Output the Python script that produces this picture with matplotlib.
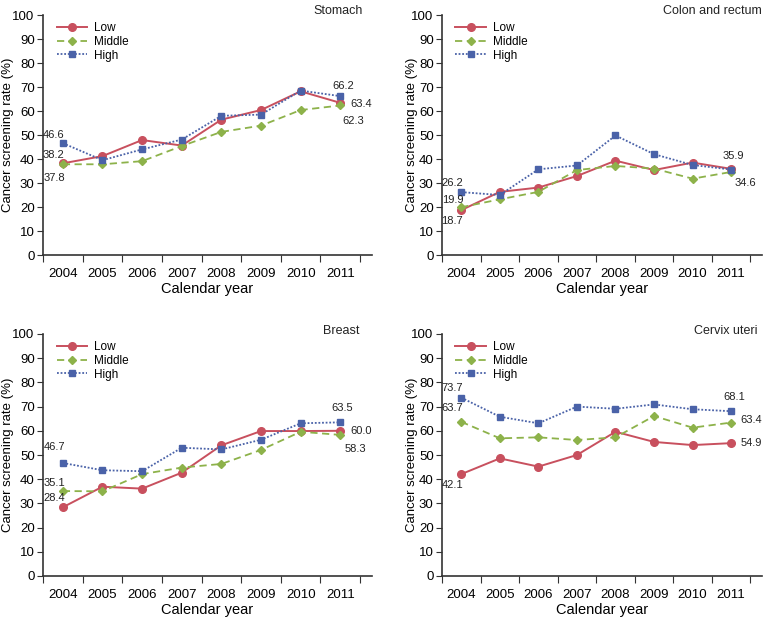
import matplotlib.pyplot as plt
from matplotlib import font_manager

# pick a narrow font if available
names = {f.name for f in font_manager.fontManager.ttflist}
fam = 'Liberation Sans Narrow' if 'Liberation Sans Narrow' in names else 'Liberation Sans'
plt.rcParams['font.family'] = [fam, 'DejaVu Sans']

years = ['2004', '2005', '2006', '2007', '2008', '2009', '2010', '2011']

stomach_low = [38.2, 41.2, 47.9, 45.6, 56.4, 60.4, 68.2, 63.4]
stomach_mid = [37.8, 37.8, 39.1, 45.4, 51.3, 53.9, 60.4, 62.3]
stomach_high = [46.6, 39.5, 44.0, 48.1, 58.0, 58.5, 68.5, 66.2]

colon_low = [18.7, 26.3, 28.1, 32.9, 39.3, 35.4, 38.5, 35.9]
colon_mid = [19.9, 23.2, 26.3, 35.4, 37.1, 36.0, 31.8, 34.6]
colon_high = [26.2, 25.0, 35.7, 37.3, 49.8, 42.0, 37.5, 35.6]

breast_low = [28.4, 36.9, 36.1, 42.7, 54.0, 59.9, 59.9, 60.0]
breast_mid = [35.1, 35.0, 42.1, 44.8, 46.3, 52.1, 59.6, 58.3]
breast_high = [46.7, 43.7, 43.3, 53.0, 52.3, 56.3, 63.1, 63.5]

cervix_low = [42.1, 48.6, 45.2, 50.0, 59.6, 55.4, 54.1, 54.9]
cervix_mid = [63.7, 56.9, 57.3, 56.2, 57.3, 66.1, 61.3, 63.4]
cervix_high = [73.7, 65.8, 63.1, 70.0, 69.1, 70.9, 68.9, 68.1]

titles = ['Stomach', 'Colon and rectum', 'Breast', 'Cervix uteri']
series = [
    (stomach_low, stomach_mid, stomach_high),
    (colon_low, colon_mid, colon_high),
    (breast_low, breast_mid, breast_high),
    (cervix_low, cervix_mid, cervix_high),
]

# which point gets a label: (series index, year index, dx, dy, ha)
labels = [
    [(2, 0, 0.05, 3.5, 'right'), (0, 0, 0.05, 3.5, 'right'), (1, 0, 0.05, -5.8, 'right'),
     (2, 7, 0.08, 4.2, 'center'), (0, 7, 0.25, -0.5, 'left'), (1, 7, 0.05, -6.5, 'left')],
    [(2, 0, 0.05, 4.0, 'right'), (1, 0, 0.05, 3.0, 'right'), (0, 0, 0.05, -4.6, 'right'),
     (0, 7, 0.05, 5.2, 'center'), (1, 7, 0.1, -4.5, 'left')],
    [(2, 0, 0.05, 6.5, 'right'), (1, 0, 0.05, 3.5, 'right'), (0, 0, 0.05, 4.0, 'right'),
     (2, 7, 0.05, 6.0, 'center'), (0, 7, 0.25, 0.0, 'left'), (1, 7, 0.1, -5.8, 'left')],
    [(2, 0, 0.05, 3.8, 'right'), (1, 0, 0.05, 5.6, 'right'), (0, 0, 0.05, -4.5, 'right'),
     (2, 7, 0.08, 5.7, 'center'), (1, 7, 0.25, 1.0, 'left'), (0, 7, 0.25, 0.0, 'left')],
]

names_s = ['Low', 'Middle', 'High']
colors = ['#c8505e', '#8db24a', '#4a62a8']
styles = ['-', '--', ':']
markers = ['o', 'D', 's']
msizes = [5.5, 4.2, 4.6]

fig = plt.figure(figsize=(7.74, 6.19), dpi=100)
W, H = 774, 619
boxes = [(43, 15, 372, 255), (442, 15, 762, 255), (43, 334, 372, 576), (442, 334, 762, 576)]
title_pos = [(363, 5), (762, 5), (360, 325), (758, 325)]
ylabel_x = [8, 412, 8, 412]

x = list(range(len(years)))
for k in range(4):
    l, t, r, b = boxes[k]
    ax = fig.add_axes([l / W, 1 - b / H, (r - l) / W, (b - t) / H])
    for s in range(3):
        ax.plot(x, series[k][s], linestyle=styles[s], color=colors[s], marker=markers[s],
                markersize=msizes[s], linewidth=1.4 if s == 0 else 1.3, label=names_s[s],
                dashes=(4, 2.5) if s == 1 else (1, 1) if s == 2 else (None, None))
    for s, i, dx, dy, ha in labels[k]:
        v = series[k][s][i]
        ax.text(i + dx, v + dy, f'{v:.1f}', ha=ha, va='center', fontsize=8, color='#222222')
    ax.set_xlim(-0.5, 7.8)
    ax.set_ylim(0, 100)
    ax.set_yticks(range(0, 101, 10))
    ax.set_xticks([i - 0.5 for i in range(9)])
    ax.set_xticklabels([])
    ax.set_xticks(x, minor=True)
    ax.set_xticklabels(years, minor=True)
    ax.tick_params(axis='x', which='major', direction='out', length=5, color='#333333')
    ax.tick_params(axis='x', which='minor', length=0, labelsize=9.5, pad=9)
    ax.tick_params(axis='y', direction='out', length=4, labelsize=9.5, color='#333333', pad=2)
    for side in ['top', 'right']:
        ax.spines[side].set_visible(False)
    for side in ['left', 'bottom']:
        ax.spines[side].set_color('#333333')
        ax.spines[side].set_linewidth(1.2)
    ax.set_ylabel('Cancer screening rate (%)', fontsize=9.5, va='center')
    ax.yaxis.set_label_coords((ylabel_x[k] - l) / (r - l), 0.5)
    ax.set_xlabel('Calendar year', fontsize=10.5, labelpad=2)
    ax.legend(loc='upper left', bbox_to_anchor=(0.02, 1.0), frameon=False, fontsize=8.5,
              handlelength=2.6, labelspacing=0.15, handletextpad=0.6, borderaxespad=0.2)
    fig.text(title_pos[k][0] / W, 1 - title_pos[k][1] / H, titles[k], ha='right', va='top',
             fontsize=9, color='#222222')

fig.savefig('out.png', dpi=100)
